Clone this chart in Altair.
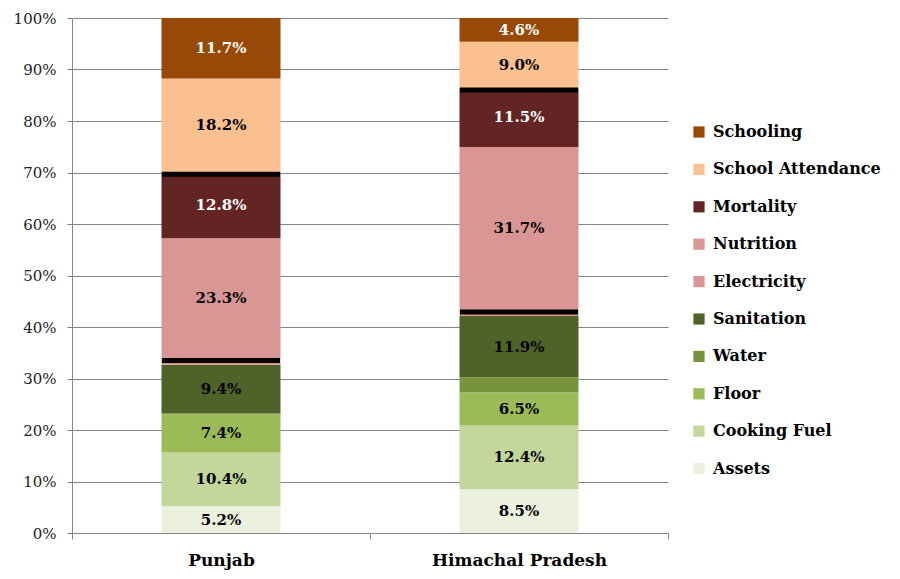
import altair as alt
import pandas as pd

regions = ["Punjab", "Himachal Pradesh"]
categories = ["Assets", "Cooking Fuel", "Floor", "Water", "Sanitation",
              "Electricity", "Nutrition", "Mortality", "School Attendance", "Schooling"]
punjab = [5.2, 10.4, 7.4, 0.2, 9.4, 1.2, 23.3, 12.8, 18.2, 11.7]
himachal = [8.5, 12.4, 6.5, 2.9, 11.9, 1.2, 31.7, 11.5, 9.0, 4.6]
colors = ["#EBF1DE", "#C3D69B", "#9BBB59", "#77933C", "#4F6228",
          "#D99694", "#D99694", "#632523", "#FAC090", "#984807"]
unlabeled = ["Water", "Electricity"]
white_text = ["Schooling", "Mortality"]
divider_after = ["Electricity", "Mortality"]

rows = []
for region, vals in zip(regions, [punjab, himachal]):
    total = sum(vals)
    cum = 0.0
    for cat, v in zip(categories, vals):
        y0 = cum / total
        cum += v
        y1 = cum / total
        rows.append({"region": region, "category": cat, "value": v,
                     "y0": y0, "y1": y1, "mid": (y0 + y1) / 2,
                     "label": f"{v:.1f}%"})
df = pd.DataFrame(rows)

legend_order = list(reversed(categories))
legend_colors = list(reversed(colors))

serif = "DejaVu Serif"

x_enc = alt.X("region:N", sort=regions, title=None,
              scale=alt.Scale(paddingInner=0, paddingOuter=0),
              axis=alt.Axis(labelFont=serif, labelFontSize=17, labelFontWeight="bold",
                            labelColor="#000", labelAngle=0, tickBand="extent",
                            tickSize=6, tickColor="#868686", domainColor="#868686",
                            labelPadding=13, labelLimit=400))

base = alt.Chart(df)

bars = base.mark_bar(size=119).encode(
    x=x_enc,
    y=alt.Y("y0:Q", title=None,
            scale=alt.Scale(domain=[0, 1], nice=False),
            axis=alt.Axis(format=".0%", values=[i / 10 for i in range(11)],
                          labelFont=serif, labelFontSize=15, labelColor="#222",
                          tickSize=5, tickColor="#868686", domainColor="#868686",
                          gridColor="#868686", gridWidth=1, labelPadding=11)),
    y2="y1:Q",
    color=alt.Color("category:N",
                    scale=alt.Scale(domain=legend_order, range=legend_colors),
                    sort=legend_order,
                    legend=alt.Legend(title=None, orient="none", legendX=619, legendY=106,
                                      symbolType="square", symbolSize=125,
                                      symbolStrokeWidth=0, labelFont=serif,
                                      labelFontSize=16, labelFontWeight="bold",
                                      labelColor="#000", rowPadding=21.4,
                                      labelLimit=300, labelOffset=6)),
)

dividers = base.transform_filter(
    alt.FieldOneOfPredicate(field="category", oneOf=divider_after)
).mark_tick(color="black", thickness=5, size=118, opacity=1, yOffset=2).encode(
    x=alt.X("region:N", sort=regions),
    y=alt.Y("y1:Q"),
)

labels = base.transform_filter(
    ~alt.FieldOneOfPredicate(field="category", oneOf=unlabeled)
).mark_text(font=serif, fontSize=15, fontWeight="bold", baseline="middle").encode(
    x=alt.X("region:N", sort=regions),
    y=alt.Y("mid:Q"),
    text="label:N",
    color=alt.condition(alt.FieldOneOfPredicate(field="category", oneOf=white_text),
                        alt.value("white"), alt.value("black")),
)

chart = alt.layer(bars, dividers, labels).properties(
    width=596, height=515,
    padding={"left": 64, "top": 10, "right": 220, "bottom": 38},
    autosize="none",
).configure_view(stroke=None).configure_axis(gridOpacity=1)

chart.save("out.html", embed_options={"renderer": "svg", "actions": False})
